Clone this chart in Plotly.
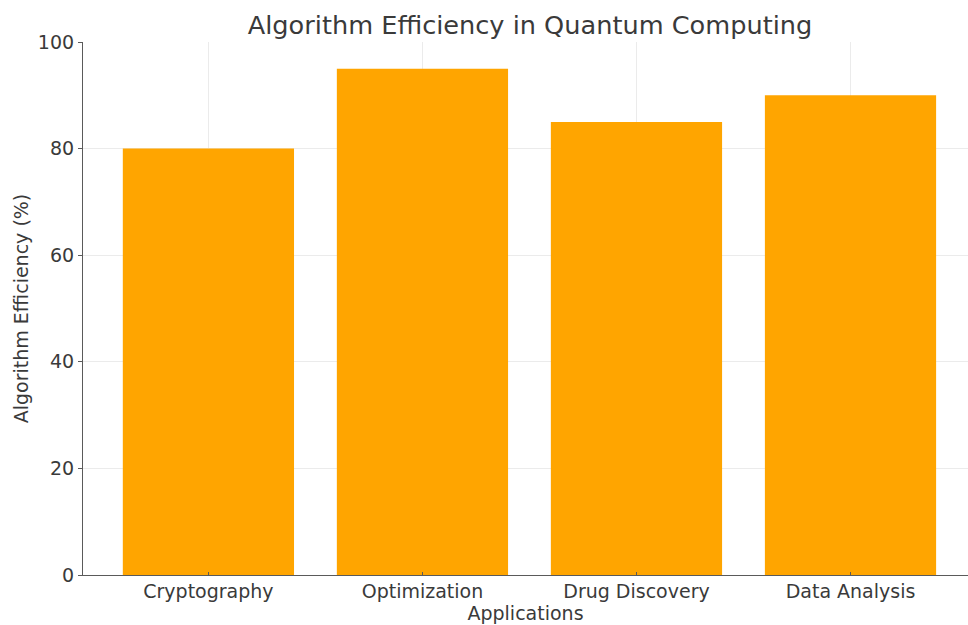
import plotly.graph_objects as go

# Efficiency of quantum algorithms per application area
applications = ["Cryptography", "Optimization", "Drug Discovery", "Data Analysis"]
efficiency = [80, 95, 85, 90]

FONT = "DejaVu Sans"
TEXT = "#3a3a3a"

fig = go.Figure(
    go.Bar(
        x=list(range(len(applications))),
        y=efficiency,
        width=0.8,
        marker=dict(color="#FFA500", line=dict(width=0)),
        hoverinfo="skip",
    )
)

fig.update_layout(
    width=968,
    height=625,
    margin=dict(l=83, r=0, t=42, b=50),
    paper_bgcolor="white",
    plot_bgcolor="white",
    showlegend=False,
    font=dict(family=FONT, color=TEXT, size=19),
    title=dict(
        text="Algorithm Efficiency in Quantum Computing",
        x=(83 + 977) / 2 / 968,
        xanchor="center",
        y=1 - 25 / 625,
        yanchor="middle",
        font=dict(family=FONT, size=25.6, color=TEXT),
    ),
)

fig.update_xaxes(
    range=[-0.586, 3.549],
    tickmode="array",
    tickvals=list(range(len(applications))),
    ticktext=applications,
    showgrid=True,
    gridcolor="#ebebeb",
    gridwidth=1,
    showline=True,
    linecolor="#5a5a5a",
    linewidth=1.2,
    ticks="inside",
    ticklen=3,
    tickcolor="#5a5a5a",
    ticklabelstandoff=-1,
    tickfont=dict(size=19, color=TEXT),
    title=dict(text="Applications", font=dict(size=19, color=TEXT), standoff=4),
    zeroline=False,
)

fig.update_yaxes(
    range=[0, 100],
    tickvals=[0, 20, 40, 60, 80, 100],
    showgrid=True,
    gridcolor="#ebebeb",
    gridwidth=1,
    showline=True,
    linecolor="#5a5a5a",
    linewidth=1.2,
    ticks="outside",
    ticklen=4,
    tickcolor="#5a5a5a",
    tickfont=dict(size=19, color=TEXT),
    title=dict(text="Algorithm Efficiency (%)", font=dict(size=19, color=TEXT), standoff=4),
    zeroline=False,
)

fig.write_html("out.html")
